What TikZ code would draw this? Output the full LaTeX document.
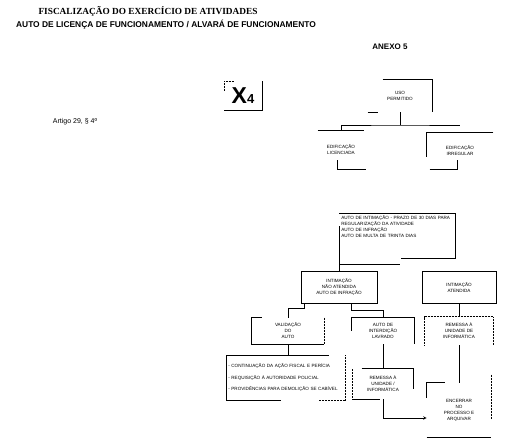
\documentclass[tikz,border=0pt]{standalone}
\usepackage{fontspec}
\setmainfont{Liberation Sans}
\newfontfamily\serifa{Liberation Serif}
\begin{document}
\begin{tikzpicture}
    [x=1pt,y=-1pt,inner sep=0pt,line width=0.6pt,>=stealth,
     caixa/.style={align=center,font=\fontsize{4.6}{6}\selectfont},
     pontos/.style={line width=0.5pt,densely dotted}]

    \useasboundingbox (0,0) rectangle (506,446);

    % headings:
    \node (tit1) at (148,11) {\serifa\bfseries\fontsize{9.3}{10}\selectfont FISCALIZAÇÃO DO EXERCÍCIO DE ATIVIDADES};
    \node (tit2) at (166,25) [font=\bfseries\fontsize{8.4}{9}\selectfont] {AUTO DE LICENÇA DE FUNCIONAMENTO / ALVARÁ DE FUNCIONAMENTO};
    \node (anexo) at (390,47) [font=\bfseries\fontsize{8}{9}\selectfont] {ANEXO 5};
    \node (artigo) at (75,122) [font=\fontsize{7}{8}\selectfont] {Artigo 29, § 4º};

    % X4 mark:
    \node (x4) at (243,96) [minimum width=37,minimum height=29,font=\bfseries] {\fontsize{23}{23}\selectfont X\fontsize{13}{13}\selectfont 4};
    \draw (x4.south west) -- (x4.south east) -- (x4.north east);
    \draw [pontos] (x4.north west) -- ++(10,0);
    \draw [pontos] (x4.north west) -- ++(0,10);

    % top node:
    \node (uso) at (400,96) [caixa,minimum width=64,minimum height=32] {USO\\PERMITIDO};
    \draw (uso.north west) ++(15,0) -- (uso.north east) -- (uso.south east);
    \draw (uso.south west) -- ++(10,0);

    % edification nodes:
    \node (edifL) at (341,150) [caixa,minimum width=46,minimum height=38] {EDIFICAÇÃO\\LICENCIADA};
    \draw (edifL.north west) -- (edifL.north east);
    \draw (edifL.south west) ++(20,-9) -- ++(0,9) -- ++(28,0);

    \node (edifR) at (460,151) [caixa,minimum width=66,minimum height=36] {EDIFICAÇÃO\\IRREGULAR};
    \draw (edifR.north east) -- (edifR.north west) -- ++(0,24);
    \draw (edifR.south west) ++(3,0) -- ++(28,0) -- ++(0,-9);

    \coordinate (barra) at (uso.south |- 0,125);
    \draw (uso.south) -- (barra);
    \draw (edifL.north) |- (barra) -- (barra -| edifR.north);

    % notice node:
    \node (auto) at (339,213) [anchor=north west,caixa,align=left,inner sep=2pt,text width=112] {AUTO DE INTIMAÇÃO - PRAZO DE 30 DIAS PARA\\REGULARIZAÇÃO DA ATIVIDADE\\AUTO DE INFRAÇÃO\\AUTO DE MULTA DE TRINTA DIAS};
    \draw (auto.north west) -- (auto.north east) -- ++(0,45) -- ++(-55,0);

    % notice met or not:
    \node (naoat) at (339,287) [caixa,draw,minimum width=76,minimum height=32] {INTIMAÇÃO\\NÃO ATENDIDA\\AUTO DE INFRAÇÃO};
    \node (atend) at (459,287) [caixa,draw,minimum width=74,minimum height=32] {INTIMAÇÃO\\ATENDIDA};

    \draw (auto.west) -- (naoat.north);
    \draw (auto.west |- 0,264) -- ++(61,0);

    % third row:
    \node (valid) at (288,331) [caixa,minimum width=72,minimum height=26] {VALIDAÇÃO\\DO\\AUTO};
    \draw (valid.north west) ++(10,0) -- (valid.north west) -- (valid.south west) -- (valid.south east);
    \draw [pontos] (valid.north east) -- (valid.south east);

    \node (interd) at (383,331) [caixa,minimum width=62,minimum height=26] {AUTO DE\\INTERDIÇÃO\\LAVRADO};
    \draw (interd.west) -- (interd.north west) -- (interd.north east) -- (interd.south east);

    \node (emiss) at (459,331) [caixa,minimum width=68,minimum height=28] {REMESSA À\\UNIDADE DE\\INFORMÁTICA};
    \draw [pontos] (emiss.south west) -- (emiss.north west) -- (emiss.north east) -- (emiss.south east);

    \draw (naoat.south west) ++(4,0) -- ++(0,5) -| (valid.north);
    \draw (naoat.south east) ++(-26,0) -- ++(0,7) -| (interd.north);
    \draw (atend.south) -- (emiss.north);

    % bottom row:
    \node (lista) at (226,355) [anchor=north west,caixa,align=left,text width=115,minimum height=45,inner xsep=2pt] {- CONTINUAÇÃO DA AÇÃO FISCAL E PERÍCIA\\[5.5pt]- REQUISIÇÃO À AUTORIDADE POLICIAL\\[5.5pt]- PROVIDÊNCIAS PARA DEMOLIÇÃO SE CABÍVEL};
    \draw (lista.north east) ++(-17,0) -- (lista.north west) -- (lista.south west) -- ++(55,0);
    \draw [pontos] (lista.north east) -- (lista.south east) -- ++(-27,0);

    \node (remessa) at (383,384) [caixa,minimum width=60,minimum height=30] {REMESSA À\\UNIDADE /\\INFORMÁTICA};
    \draw (remessa.north west) ++(9,0) -- (remessa.north east) -- ++(0,20);
    \draw (remessa.south west) -- ++(27,0);
    \draw [pontos] (remessa.south west) -- (remessa.north west);

    \node (encerr) at (459,410) [caixa,minimum width=64,minimum height=54] {ENCERRAR\\NO\\PROCESSO E\\ARQUIVAR};
    \draw (encerr.north west) ++(18,0) -- (encerr.north west) -- ++(0,15);
    \draw (encerr.south west) -- (encerr.south east);
    \draw [pontos] (encerr.north east) ++(0,-8) -- ++(0,45);

    \draw (valid.south) -- (lista.north -| valid.south);
    \draw (interd.south) -- (remessa.north);
    \draw (emiss.south) -- (encerr.north);
    \draw [->] (remessa.south) |- (encerr.west |- 0,418);

\end{tikzpicture}
\end{document}
